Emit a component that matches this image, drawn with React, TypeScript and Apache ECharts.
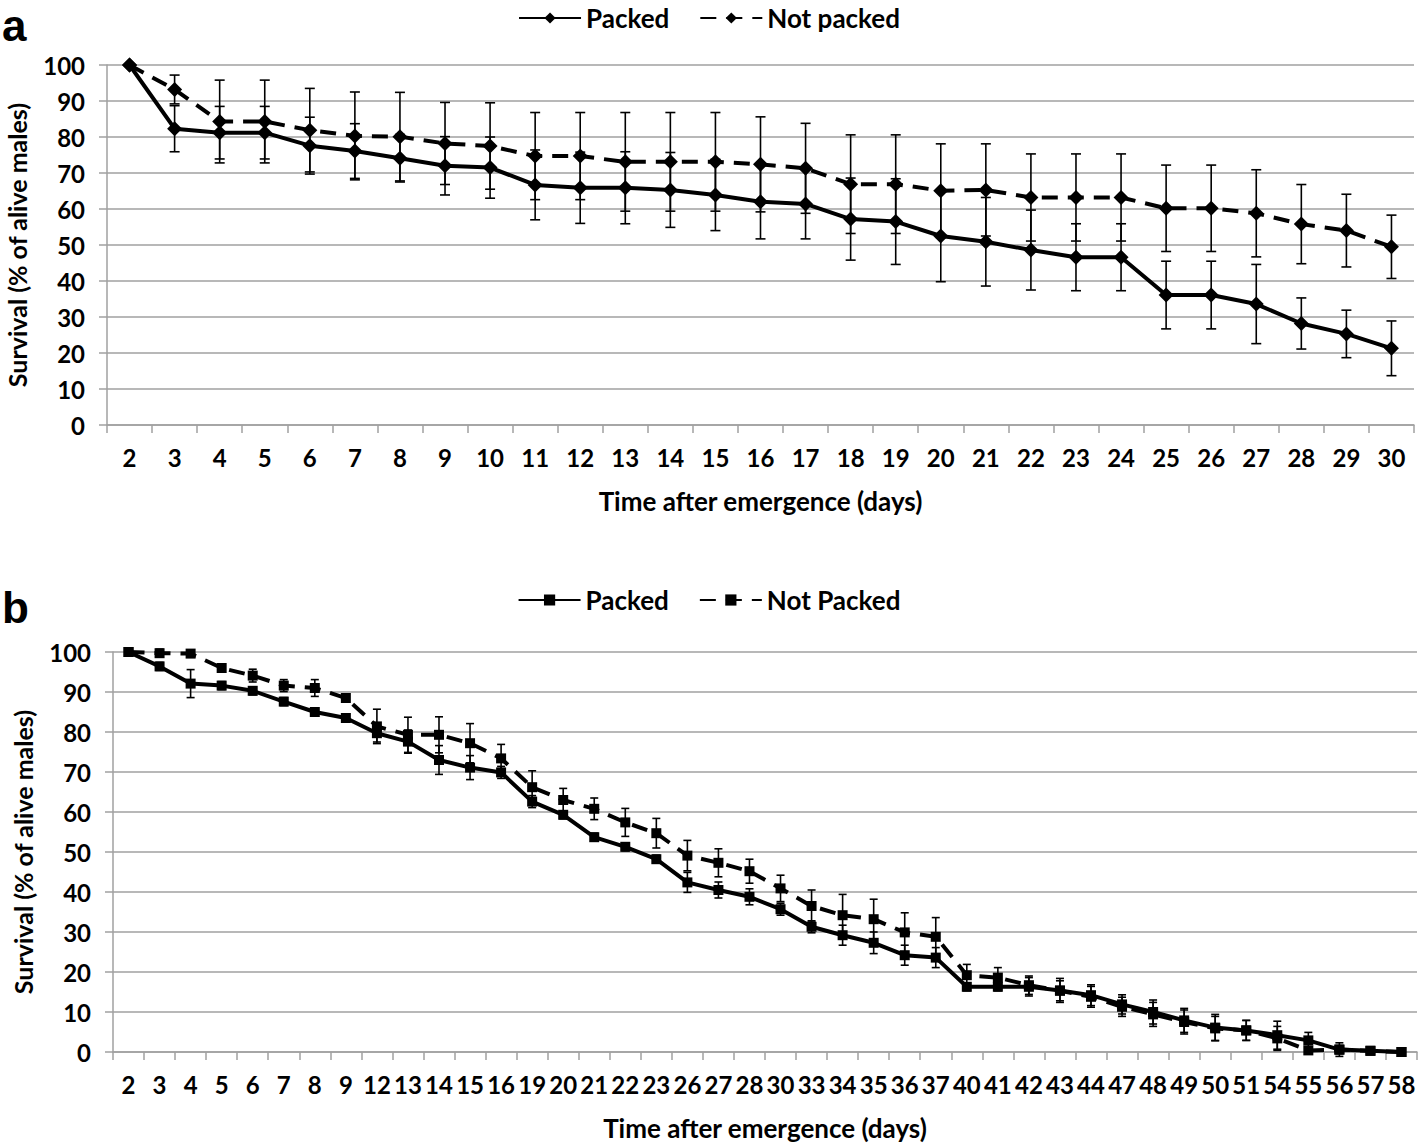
import React, { useEffect, useRef } from "react";
import * as echarts from "echarts";

// ---------- Panel a ----------
const daysA = ["2","3","4","5","6","7","8","9","10","11","12","13","14","15","16","17","18","19","20","21","22","23","24","25","26","27","28","29","30"];
const packedA = [100, 82.3, 81.2, 81.2, 77.6, 76.1, 74.1, 72.0, 71.5, 66.7, 65.9, 65.9, 65.3, 63.9, 62.0, 61.4, 57.2, 56.5, 52.5, 50.9, 48.6, 46.6, 46.6, 36.1, 36.1, 33.6, 28.2, 25.3, 21.3];
const packedErrA = [0, 6.4, 7.3, 7.3, 7.9, 7.6, 6.6, 8.1, 8.5, 9.7, 9.9, 10.0, 10.4, 9.9, 10.3, 9.7, 11.4, 11.9, 12.7, 12.3, 11.1, 9.3, 9.3, 9.4, 9.4, 11.0, 7.1, 6.6, 7.6];
const notPackedA = [100, 93.2, 84.3, 84.3, 81.9, 80.3, 80.1, 78.2, 77.5, 74.7, 74.7, 73.1, 73.1, 73.1, 72.4, 71.3, 66.9, 66.9, 65.1, 65.3, 63.2, 63.2, 63.2, 60.2, 60.2, 58.8, 55.8, 54.0, 49.5];
const notPackedErrA = [0, 4.0, 11.5, 11.5, 11.6, 12.2, 12.3, 11.4, 12.0, 12.1, 12.1, 13.7, 13.7, 13.7, 13.2, 12.5, 13.7, 13.7, 13.0, 12.8, 12.1, 12.1, 12.1, 12.0, 12.0, 12.1, 11.0, 10.1, 8.8];

// ---------- Panel b ----------
const daysB = ["2","3","4","5","6","7","8","9","12","13","14","15","16","19","20","21","22","23","26","27","28","30","33","34","35","36","37","40","41","42","43","44","47","48","49","50","51","54","55","56","57","58"];
const packedB = [100, 96.4, 92.1, 91.6, 90.3, 87.6, 85.0, 83.5, 79.7, 77.6, 73.0, 71.1, 69.9, 62.6, 59.3, 53.7, 51.3, 48.2, 42.4, 40.5, 38.8, 35.7, 31.3, 29.2, 27.3, 24.2, 23.6, 16.3, 16.3, 16.3, 15.4, 14.2, 11.9, 10.0, 7.9, 6.1, 5.4, 4.2, 2.9, 0.6, 0.3, 0];
const packedErrB = [0, 1, 3.5, 1, 1, 1, 1, 1, 2.2, 2.9, 3.6, 3, 1.5, 1.5, 1, 1, 1, 1, 2.5, 2, 2, 1.5, 1.5, 2.5, 2.7, 2.5, 2.5, 1, 1, 2.3, 3, 2.6, 2.4, 3, 3, 3.3, 2.5, 3.5, 2, 1.7, 0.5, 0];
const notPackedB = [100, 99.7, 99.6, 96.0, 94.1, 91.6, 91.0, 88.5, 81.4, 79.3, 79.3, 77.2, 73.4, 66.2, 63.0, 60.8, 57.4, 54.7, 49.1, 47.3, 45.2, 40.9, 36.5, 34.2, 33.2, 29.9, 28.8, 19.2, 18.6, 16.7, 15.3, 13.8, 11.3, 9.4, 7.5, 5.9, 5.4, 3.4, 0.4, 0.6, 0.3, 0];
const notPackedErrB = [0, 1, 0.5, 1, 1.6, 1.5, 2.1, 1, 4.3, 4.4, 4.5, 4.9, 3.5, 4.1, 2.9, 2.7, 3.5, 3.7, 3.8, 3.5, 3, 3.3, 4, 5.2, 5, 4.9, 4.8, 2.7, 2.5, 2.3, 2.5, 2.6, 2.4, 3, 3, 3, 2.5, 3, 0.5, 1, 0.5, 0];

const yTicks = [0, 10, 20, 30, 40, 50, 60, 70, 80, 90, 100];

const FONT = "Lato";
const GRID_GRAY = "#a0a0a0";

function errorBars(values: number[], errs: number[], capHalf: number) {
  return {
    type: "custom",
    silent: true,
    z: 3,
    data: values
      .map((v, i) => [i, v - errs[i], v + errs[i], errs[i]])
      .filter((d) => d[3] > 0),
    encode: { x: 0, y: [1, 2] },
    renderItem: (params: any, api: any) => {
      const x = api.value(0);
      const lo = api.coord([x, api.value(1)]);
      const hi = api.coord([x, api.value(2)]);
      const st = { stroke: "#000", lineWidth: 1.6 };
      return {
        type: "group",
        children: [
          { type: "line", shape: { x1: lo[0], y1: lo[1], x2: hi[0], y2: hi[1] }, style: st },
          { type: "line", shape: { x1: hi[0] - capHalf, y1: hi[1], x2: hi[0] + capHalf, y2: hi[1] }, style: st },
          { type: "line", shape: { x1: lo[0] - capHalf, y1: lo[1], x2: lo[0] + capHalf, y2: lo[1] }, style: st },
        ],
      };
    },
  };
}

function buildOption(cfg: any) {
  const txt = { fontFamily: FONT, fontWeight: "bold", color: "#000" };
  return {
    animation: false,
    backgroundColor: "#fff",
    textStyle: { fontFamily: FONT },
    graphic: [
      {
        type: "text",
        left: 2,
        top: cfg.labelTop,
        style: { text: cfg.panel, fontFamily: "Liberation Sans", fontWeight: "bold", fontSize: 44, fill: "#000" },
      },
    ],
    legend: {
      data: [cfg.names[0], cfg.names[1]],
      left: "center",
      top: cfg.legendTop,
      itemWidth: 62,
      itemHeight: 14,
      itemGap: 30,
      textStyle: { ...txt, fontSize: 26 },
    },
    grid: {
      left: 107 + cfg.dx,
      top: cfg.top,
      width: cfg.width,
      height: cfg.height,
      containLabel: false,
      outerBoundsMode: "none",
    },
    xAxis: {
      type: "category",
      data: cfg.days,
      boundaryGap: true,
      name: "Time after emergence (days)",
      nameLocation: "middle",
      nameGap: 63,
      nameTextStyle: { ...txt, fontSize: 26 },
      axisLine: { lineStyle: { color: GRID_GRAY, width: 1.5 } },
      axisTick: { show: true, length: 8, interval: 0, lineStyle: { color: GRID_GRAY, width: 1.5 } },
      axisLabel: { ...txt, fontSize: 24, interval: 0, margin: 20 },
      splitLine: { show: false },
    },
    yAxis: {
      type: "value",
      min: 0,
      max: 100,
      interval: 10,
      name: "Survival (% of alive males)",
      nameLocation: "middle",
      nameGap: 78,
      nameTextStyle: { ...txt, fontSize: 25 },
      axisLine: { show: true, lineStyle: { color: GRID_GRAY, width: 1.5 } },
      axisTick: { show: true, length: 8, lineStyle: { color: GRID_GRAY, width: 1.5 } },
      axisLabel: { ...txt, fontSize: 24, margin: 22, formatter: (v: number) => (yTicks.includes(v) ? String(v) : "") },
      splitLine: { show: true, lineStyle: { color: GRID_GRAY, width: 1.5 } },
    },
    series: [
      errorBars(cfg.packed, cfg.packedErr, cfg.cap),
      errorBars(cfg.notPacked, cfg.notPackedErr, cfg.cap),
      {
        name: cfg.names[0],
        type: "line",
        data: cfg.packed,
        symbol: cfg.symbol,
        symbolSize: cfg.symbolSize,
        itemStyle: { color: "#000" },
        lineStyle: { color: "#000", width: 4, type: "solid" },
        z: 4,
      },
      {
        name: cfg.names[1],
        type: "line",
        data: cfg.notPacked,
        symbol: cfg.symbol,
        symbolSize: cfg.symbolSize,
        itemStyle: { color: "#000" },
        lineStyle: { color: "#000", width: 4, type: [16, 10] },
        z: 4,
      },
    ],
  };
}

function Panel(props: { cfg: any; style: any }) {
  const ref = useRef<HTMLDivElement>(null);
  useEffect(() => {
    if (!ref.current) return;
    const chart = echarts.init(ref.current, null, { renderer: "svg" });
    chart.setOption(buildOption(props.cfg));
    return () => chart.dispose();
  }, []);
  return <div ref={ref} style={props.style} />;
}

export default function App() {
  const cfgA = {
    panel: "a",
    labelTop: 3,
    legendTop: 0,
    names: ["Packed", "Not packed"],
    days: daysA,
    packed: packedA,
    packedErr: packedErrA,
    notPacked: notPackedA,
    notPackedErr: notPackedErrA,
    dx: 0,
    top: 65,
    width: 1307,
    height: 360,
    symbol: "diamond",
    symbolSize: 15,
    cap: 5,
  };
  const cfgB = {
    panel: "b",
    labelTop: 10,
    legendTop: 7,
    names: ["Packed", "Not Packed"],
    days: daysB,
    packed: packedB,
    packedErr: packedErrB,
    notPacked: notPackedB,
    notPackedErr: notPackedErrB,
    dx: 6,
    top: 77,
    width: 1304,
    height: 400,
    symbol: "rect",
    symbolSize: 10,
    cap: 4,
  };
  return (
    <div style={{ position: "absolute", left: 0, top: 0, width: 1418, height: 1146, background: "#fff" }}>
      <Panel cfg={cfgA} style={{ position: "absolute", left: 0, top: 0, width: 1418, height: 560 }} />
      <Panel cfg={cfgB} style={{ position: "absolute", left: 0, top: 575, width: 1418, height: 571 }} />
    </div>
  );
}
